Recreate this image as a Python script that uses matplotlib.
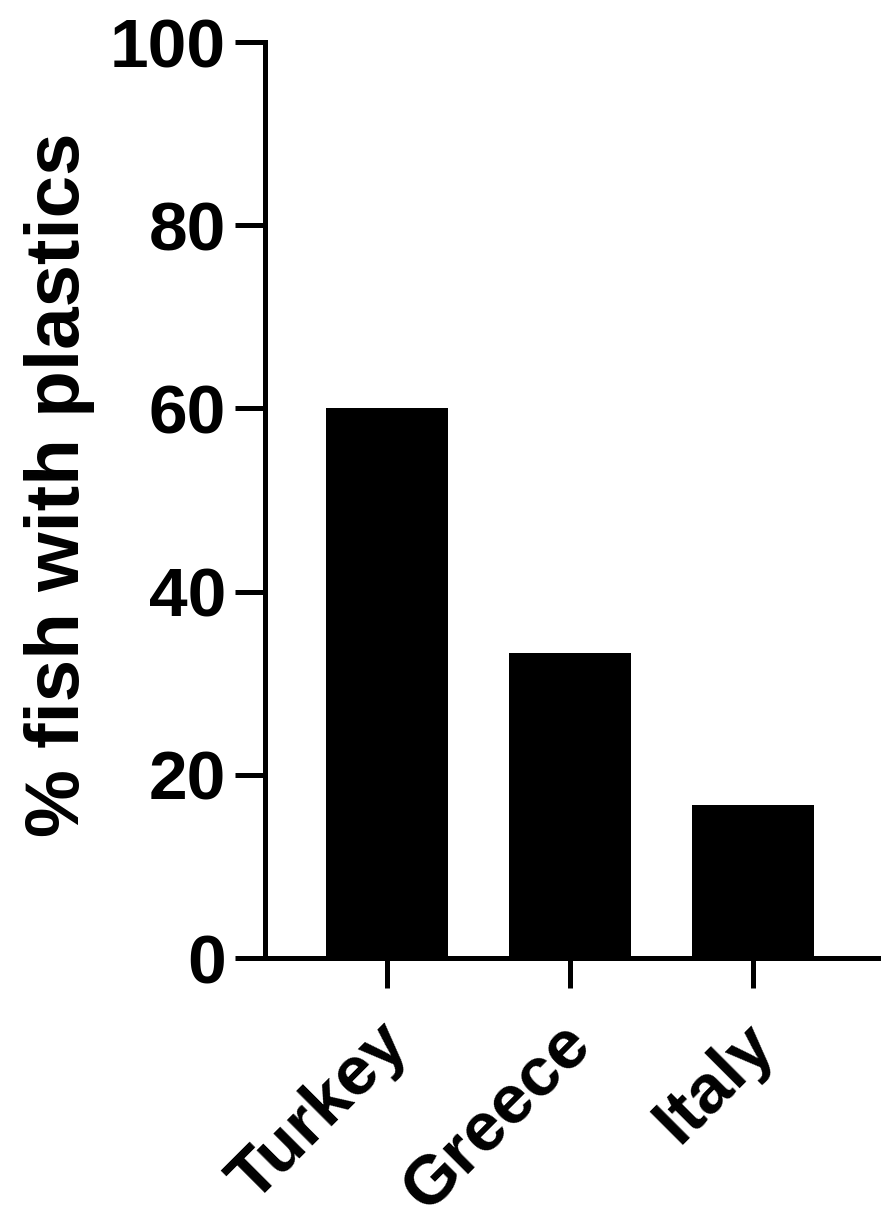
import numpy as np
import matplotlib.pyplot as plt
from matplotlib import transforms

countries = ['Turkey', 'Greece', 'Italy']
pct_with_plastics = [60.0, 33.3, 16.7]
y_ticks = [0, 20, 40, 60, 80, 100]

plt.rcParams['font.family'] = ['Liberation Sans', 'DejaVu Sans']
plt.rcParams['font.weight'] = 'bold'

fig = plt.figure(figsize=(8.91, 12.26), dpi=100)
ax = fig.add_axes([265 / 891, 1 - 958 / 1226, 613 / 891, 916 / 1226])

x = np.arange(len(countries))
ax.bar(x, pct_with_plastics, width=0.667, color='black', linewidth=0)

ax.set_xlim(-0.667, 2.683)
ax.set_ylim(0, 100)
ax.set_yticks(y_ticks)
ax.set_xticks(x)
ax.set_xticklabels(countries, rotation=45, ha='right', va='baseline',
                   rotation_mode='anchor', fontsize=50, fontweight='bold')
ax.set_yticklabels([str(t) for t in y_ticks], fontsize=50, fontweight='bold')

for side in ['top', 'right']:
    ax.spines[side].set_visible(False)
for side in ['left', 'bottom']:
    ax.spines[side].set_linewidth(3.6)
    ax.spines[side].set_capstyle('projecting')

ax.tick_params(axis='both', length=21.6, width=3.6, color='black')
ax.tick_params(axis='y', pad=6.5)
ax.tick_params(axis='x', pad=42.5)

# rotated labels end a little right of their tick
shift = transforms.ScaledTranslation(0.235, 0, fig.dpi_scale_trans)
for lbl in ax.get_xticklabels():
    lbl.set_transform(lbl.get_transform() + shift)

lab = ax.set_ylabel('% fish with plastics', fontsize=55, fontweight='bold')
ax.yaxis.set_label_coords(-0.3034, 0.517)
lab.set_va('baseline')
lab.set_rotation_mode('anchor')

fig.savefig('out.png', dpi=100)
